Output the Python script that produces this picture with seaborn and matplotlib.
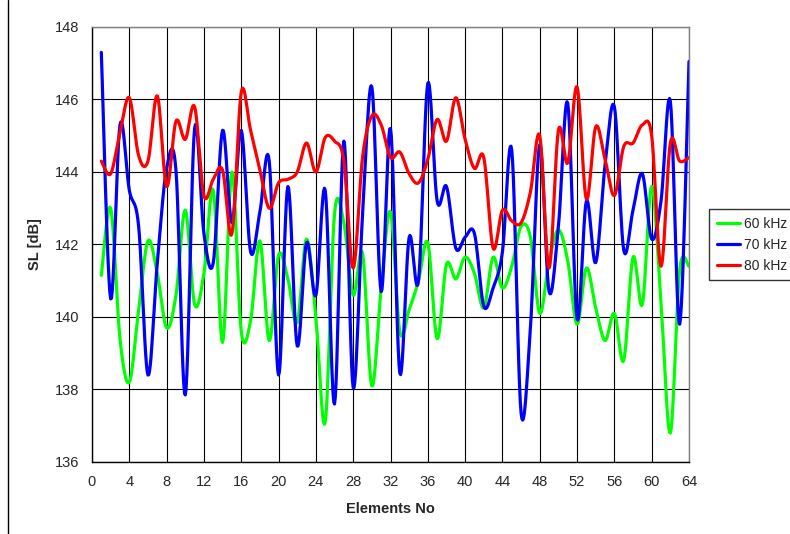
import numpy as np
import pandas as pd
import matplotlib
matplotlib.use('Agg')
import matplotlib.pyplot as plt
import seaborn as sns
from matplotlib.lines import Line2D

# Datos (SL en dB por elemento)
elementos = list(range(1, 65))

sl_60 = [141.15, 143.0, 139.4, 138.2, 140.2, 142.1, 141.2, 139.7, 140.6, 142.95,
         140.35, 141.2, 143.5, 139.3, 144.0, 139.6, 139.9, 142.1, 139.35, 141.7,
         141.05, 139.85, 142.15, 140.0, 137.1, 142.85, 142.6, 140.6, 141.75, 138.1,
         140.8, 142.9, 139.6, 140.2, 141.0, 142.05, 139.4, 141.45, 141.05, 141.65,
         141.2, 140.25, 141.65, 140.8, 141.4, 142.5, 142.2, 140.1, 141.55, 142.4,
         141.55, 139.8, 141.35, 140.25, 139.35, 140.1, 138.8, 141.65, 140.35, 143.6,
         140.4, 136.8, 141.3, 141.4]

sl_70 = [147.3, 140.5, 145.3, 143.5, 142.5, 138.4, 141.5, 144.1, 144.05, 137.85,
         145.2, 142.3, 141.5, 145.15, 142.6, 145.15, 141.8, 142.9, 144.3, 138.4,
         143.6, 139.2, 142.05, 140.6, 143.5, 137.6, 144.85, 138.05, 142.8, 146.35,
         140.7, 145.2, 138.45, 142.2, 141.0, 146.45, 143.2, 143.6, 141.9, 142.2,
         142.3, 140.3, 140.8, 141.8, 144.6, 137.35, 139.7, 144.75, 140.7, 142.5,
         145.9, 139.95, 143.2, 141.5, 144.2, 145.8, 141.85, 142.95, 143.95, 142.15,
         143.2, 145.95, 139.8, 147.05]

sl_80 = [144.3, 143.95, 145.1, 146.05, 144.45, 144.3, 146.1, 143.6, 145.4, 144.9,
         145.8, 143.35, 143.8, 144.05, 142.3, 146.2, 145.15, 144.05, 143.0, 143.7,
         143.8, 144.0, 144.8, 144.0, 144.95, 144.85, 144.3, 141.35, 144.4, 145.55,
         145.3, 144.4, 144.55, 143.95, 143.7, 144.35, 145.45, 144.85, 146.05, 144.9,
         144.1, 144.4, 141.9, 142.95, 142.65, 142.6, 143.45, 145.0, 141.35, 145.15,
         144.25, 146.35, 143.25, 145.25, 144.35, 143.35, 144.7, 144.8, 145.3, 145.0,
         141.4, 144.8, 144.3, 144.4]

series = {'60 kHz': sl_60, '70 kHz': sl_70, '80 kHz': sl_80}
colores = {'60 kHz': '#00ff00', '70 kHz': '#0000ff', '80 kHz': '#ff0000'}


def suavizar(x, y, n=12):
    '''
    Curva suavizada tipo Excel (Catmull-Rom) entre los puntos dados.
    '''
    x = np.asarray(x, float)
    y = np.asarray(y, float)
    px = np.concatenate([[x[0]], x, [x[-1]]])
    py = np.concatenate([[y[0]], y, [y[-1]]])
    t = np.linspace(0, 1, n, endpoint=False)
    xs, ys = [], []
    for i in range(1, len(px) - 2):
        for p, out in ((px, xs), (py, ys)):
            p0, p1, p2, p3 = p[i - 1], p[i], p[i + 1], p[i + 2]
            out.extend(0.5 * ((2 * p1) + (-p0 + p2) * t
                              + (2 * p0 - 5 * p1 + 4 * p2 - p3) * t ** 2
                              + (-p0 + 3 * p1 - 3 * p2 + p3) * t ** 3))
    xs.append(x[-1])
    ys.append(y[-1])
    return np.array(xs), np.array(ys)


filas = []
for nombre, valores in series.items():
    xs, ys = suavizar(elementos, valores)
    filas.append(pd.DataFrame({'Elements No': xs, 'SL': ys, 'serie': nombre}))
df = pd.concat(filas, ignore_index=True)

sns.set_style('white')
plt.rcParams['font.family'] = ['Liberation Sans', 'DejaVu Sans']

fig = plt.figure(figsize=(7.9, 5.34), dpi=100)
ax = fig.add_axes([92 / 790, 1 - 462 / 534, 597 / 790, 435 / 534])

sns.lineplot(data=df, x='Elements No', y='SL', hue='serie', palette=colores,
             sort=False, estimator=None, linewidth=2.3, ax=ax, legend=False)

ax.set_xlim(0, 64)
ax.set_ylim(136, 148)
ax.set_xticks(range(0, 65, 4))
ax.set_yticks(range(136, 149, 2))
ax.grid(True, color='black', linewidth=0.8)
ax.set_axisbelow(True)
for lado in ['top', 'right']:
    ax.spines[lado].set_color('#808080')
for lado in ['left', 'bottom']:
    ax.spines[lado].set_color('black')
for s in ax.spines.values():
    s.set_linewidth(1.0)
ax.tick_params(axis='both', direction='out', length=5, width=0.8, color='black',
               labelsize=10.5, pad=4)
ax.set_xlabel('Elements No', fontsize=10.5, fontweight='bold', labelpad=10)
ax.set_ylabel('SL [dB]', fontsize=10.5, fontweight='bold', labelpad=9)

# Leyenda fuera del area de graficos
manejadores = [Line2D([0], [0], color=colores[k], linewidth=2.3) for k in series]
fig.legend(manejadores, list(series.keys()), loc='upper left',
           bbox_to_anchor=(709 / 790, 1 - 209 / 534), frameon=True, fancybox=False,
           edgecolor='black', fontsize=10, handlelength=1.7, handletextpad=0.25,
           borderpad=0.55, labelspacing=0.5, borderaxespad=0)

# Borde izquierdo del area del grafico
fig.add_artist(Line2D([8 / 790, 8 / 790], [0, 1], color='black', linewidth=1.0,
                      transform=fig.transFigure))

fig.savefig('out.png', dpi=100)
